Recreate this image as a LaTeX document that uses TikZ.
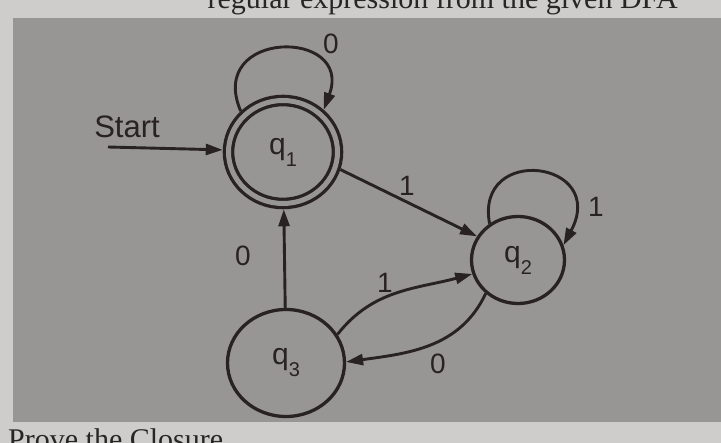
\documentclass[tikz,border=0pt]{standalone}
\usepackage{fontspec}
\setmainfont{Liberation Serif}
\newfontfamily\diagfont{Liberation Sans}
\usetikzlibrary{arrows.meta,shapes.geometric}
\definecolor{paper}{RGB}{206,205,203}
\definecolor{photo}{RGB}{152,150,148}
\definecolor{ink}{RGB}{40,34,34}
\newcommand{\qsub}[1]{q\raisebox{-0.4em}{\fontsize{20}{20}\selectfont #1}}
\begin{document}
\begin{tikzpicture}[x=1pt,y=-1pt,
  state/.style={draw=ink, line width=3.3pt, ellipse, inner sep=0pt, text=ink,
    font=\diagfont\fontsize{30}{32}\selectfont},
  edge/.style={draw=ink, line width=2.9pt, -{Triangle[length=17pt,width=11pt]}},
  lbl/.style={text=ink, inner sep=0pt, font=\diagfont\fontsize{28}{30}\selectfont},
  page/.style={text=black!85, inner sep=0pt, font=\fontsize{30}{32}\selectfont}]
\useasboundingbox (0,0) rectangle (721,443);
\clip (0,0) rectangle (721,443);
\fill[paper] (0,0) rectangle (721,443);
\fill[photo] (13,18) rectangle (721,422);

% page text (cut off by the photo edges, as in the source)
\node[page, anchor=base east] (title) at (678,9) {regular expression from the given DFA};
\node[page, anchor=base west] (prove) at (8,450) {Prove the Closure};

% states
\node[state, double=photo, double distance=5pt, minimum width=109pt, minimum height=103pt,
  outer sep=5.8pt] (q1) at (283,152) {\qsub{1}};
\node[state, minimum width=93pt, minimum height=87pt, outer sep=1.6pt] (q2) at (518,260) {\qsub{2}};
\node[state, minimum width=117pt, minimum height=107pt, outer sep=1.6pt] (q3) at (286,363) {\qsub{3}};

% start arrow
\coordinate (st) at (108,147);
\node[lbl, font=\diagfont\fontsize{31}{33}\selectfont] (startlbl) at (127,127) {Start};
\draw[edge] (st) -- (q1.178);

% transitions
\draw[edge] (q1.136) .. controls +(-35,-82) and +(30,-82) .. (q1.46);
\draw[edge] (q1.-17) -- (q2.150);
\draw[edge] (q2.128) .. controls +(-15,-80) and +(45,-85) .. (q2.18);
\draw[edge] (q3.29) to[out=52, in=195] (q2.197);
\draw[edge] (q2.226) to[out=245, in=8] (q3.1);
\draw[edge] (q3) -- (q1);

% labels
\node[lbl] (l0a) at (331,44) {0};
\node[lbl] (l1a) at (407,186) {1};
\node[lbl] (l1b) at (596,207) {1};
\node[lbl] (l1c) at (385,283) {1};
\node[lbl] (l0b) at (438,364) {0};
\node[lbl] (l0c) at (243,256) {0};
\end{tikzpicture}
\end{document}
